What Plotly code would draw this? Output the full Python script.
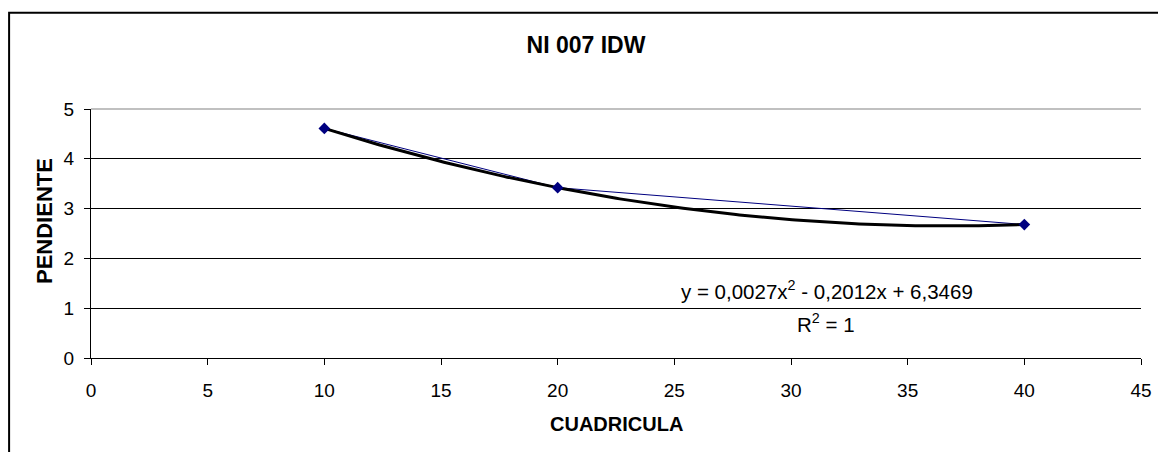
import numpy as np
import plotly.graph_objects as go

# datos
cuadricula = [10, 20, 40]
pendiente = [4.61, 3.42, 2.68]

titulo = "NI 007 IDW"
titulo_x = "CUADRICULA"
titulo_y = "PENDIENTE"
ecuacion = "y = 0,0027x<sup>2</sup> - 0,2012x + 6,3469"
r2 = "R<sup>2</sup> = 1"

FONT = "Liberation Sans, Arial, sans-serif"
AZUL = "#000080"

# linea de tendencia polinomica (orden 2), como la de Excel
coef = np.polyfit(cuadricula, pendiente, 2)
xt = np.linspace(min(cuadricula), max(cuadricula), 200)
yt = np.polyval(coef, xt)

fig = go.Figure()
fig.add_trace(go.Scatter(x=cuadricula, y=pendiente, mode="lines",
                         line=dict(color=AZUL, width=1), showlegend=False))
fig.add_trace(go.Scatter(x=xt, y=yt, mode="lines",
                         line=dict(color="black", width=3), showlegend=False))
fig.add_trace(go.Scatter(x=cuadricula, y=pendiente, mode="markers",
                         marker=dict(symbol="diamond", size=9, color=AZUL),
                         showlegend=False))

# la pagina tiene 8px de margen en el body, se descuenta aqui
W, H = 1158, 444
fig.update_layout(
    width=W, height=H,
    margin=dict(l=83, r=25, t=101, b=94),
    paper_bgcolor="white", plot_bgcolor="white",
    font=dict(family=FONT, size=19, color="black"),
    title=dict(text=titulo, x=578 / W, xref="container", xanchor="center",
               y=1 - 37 / H, yref="container", yanchor="middle",
               font=dict(family=FONT, size=23, color="black", weight="bold")),
    xaxis=dict(range=[0, 45], dtick=5, showgrid=False, zeroline=False,
               showline=True, linecolor="black", linewidth=1,
               ticks="outside", ticklen=6, tickcolor="black",
               ticklabelstandoff=9, tickfont=dict(size=19)),
    yaxis=dict(range=[0, 5], dtick=1, showgrid=True, gridcolor="black",
               gridwidth=1, zeroline=False,
               showline=True, linecolor="black", linewidth=1,
               ticks="outside", ticklen=6, tickcolor="black",
               ticklabelstandoff=6, tickfont=dict(size=19)),
)

# linea superior gris del area de trazado y marco del grafico
fig.add_shape(type="line", xref="x domain", yref="y domain",
              x0=0, x1=1, y0=1, y1=1, line=dict(color="#c0c0c0", width=2))
fig.add_shape(type="rect", xref="paper", yref="paper",
              x0=-0.078, x1=1.2, y0=-1, y1=1.3867,
              line=dict(color="black", width=2))

fig.add_annotation(text=titulo_y, textangle=-90, xref="paper", yref="paper",
                   x=(44 - 91) / 1050, y=(358 - 221) / 249, showarrow=False,
                   xanchor="center", yanchor="middle",
                   font=dict(family=FONT, size=22, weight="bold"))
fig.add_annotation(text=titulo_x, xref="paper", yref="paper",
                   x=0.5, y=(358 - 424) / 249, showarrow=False,
                   xanchor="center", yanchor="middle",
                   font=dict(family=FONT, size=20, weight="bold"))
fig.add_annotation(text=ecuacion, xref="paper", yref="paper",
                   x=(827 - 91) / 1050, y=(358 - 290) / 249, showarrow=False,
                   xanchor="center", yanchor="middle",
                   font=dict(family=FONT, size=20.5))
fig.add_annotation(text=r2, xref="paper", yref="paper",
                   x=(826 - 91) / 1050, y=(358 - 323) / 249, showarrow=False,
                   xanchor="center", yanchor="middle",
                   font=dict(family=FONT, size=20.5))

fig.write_html("out.html")
